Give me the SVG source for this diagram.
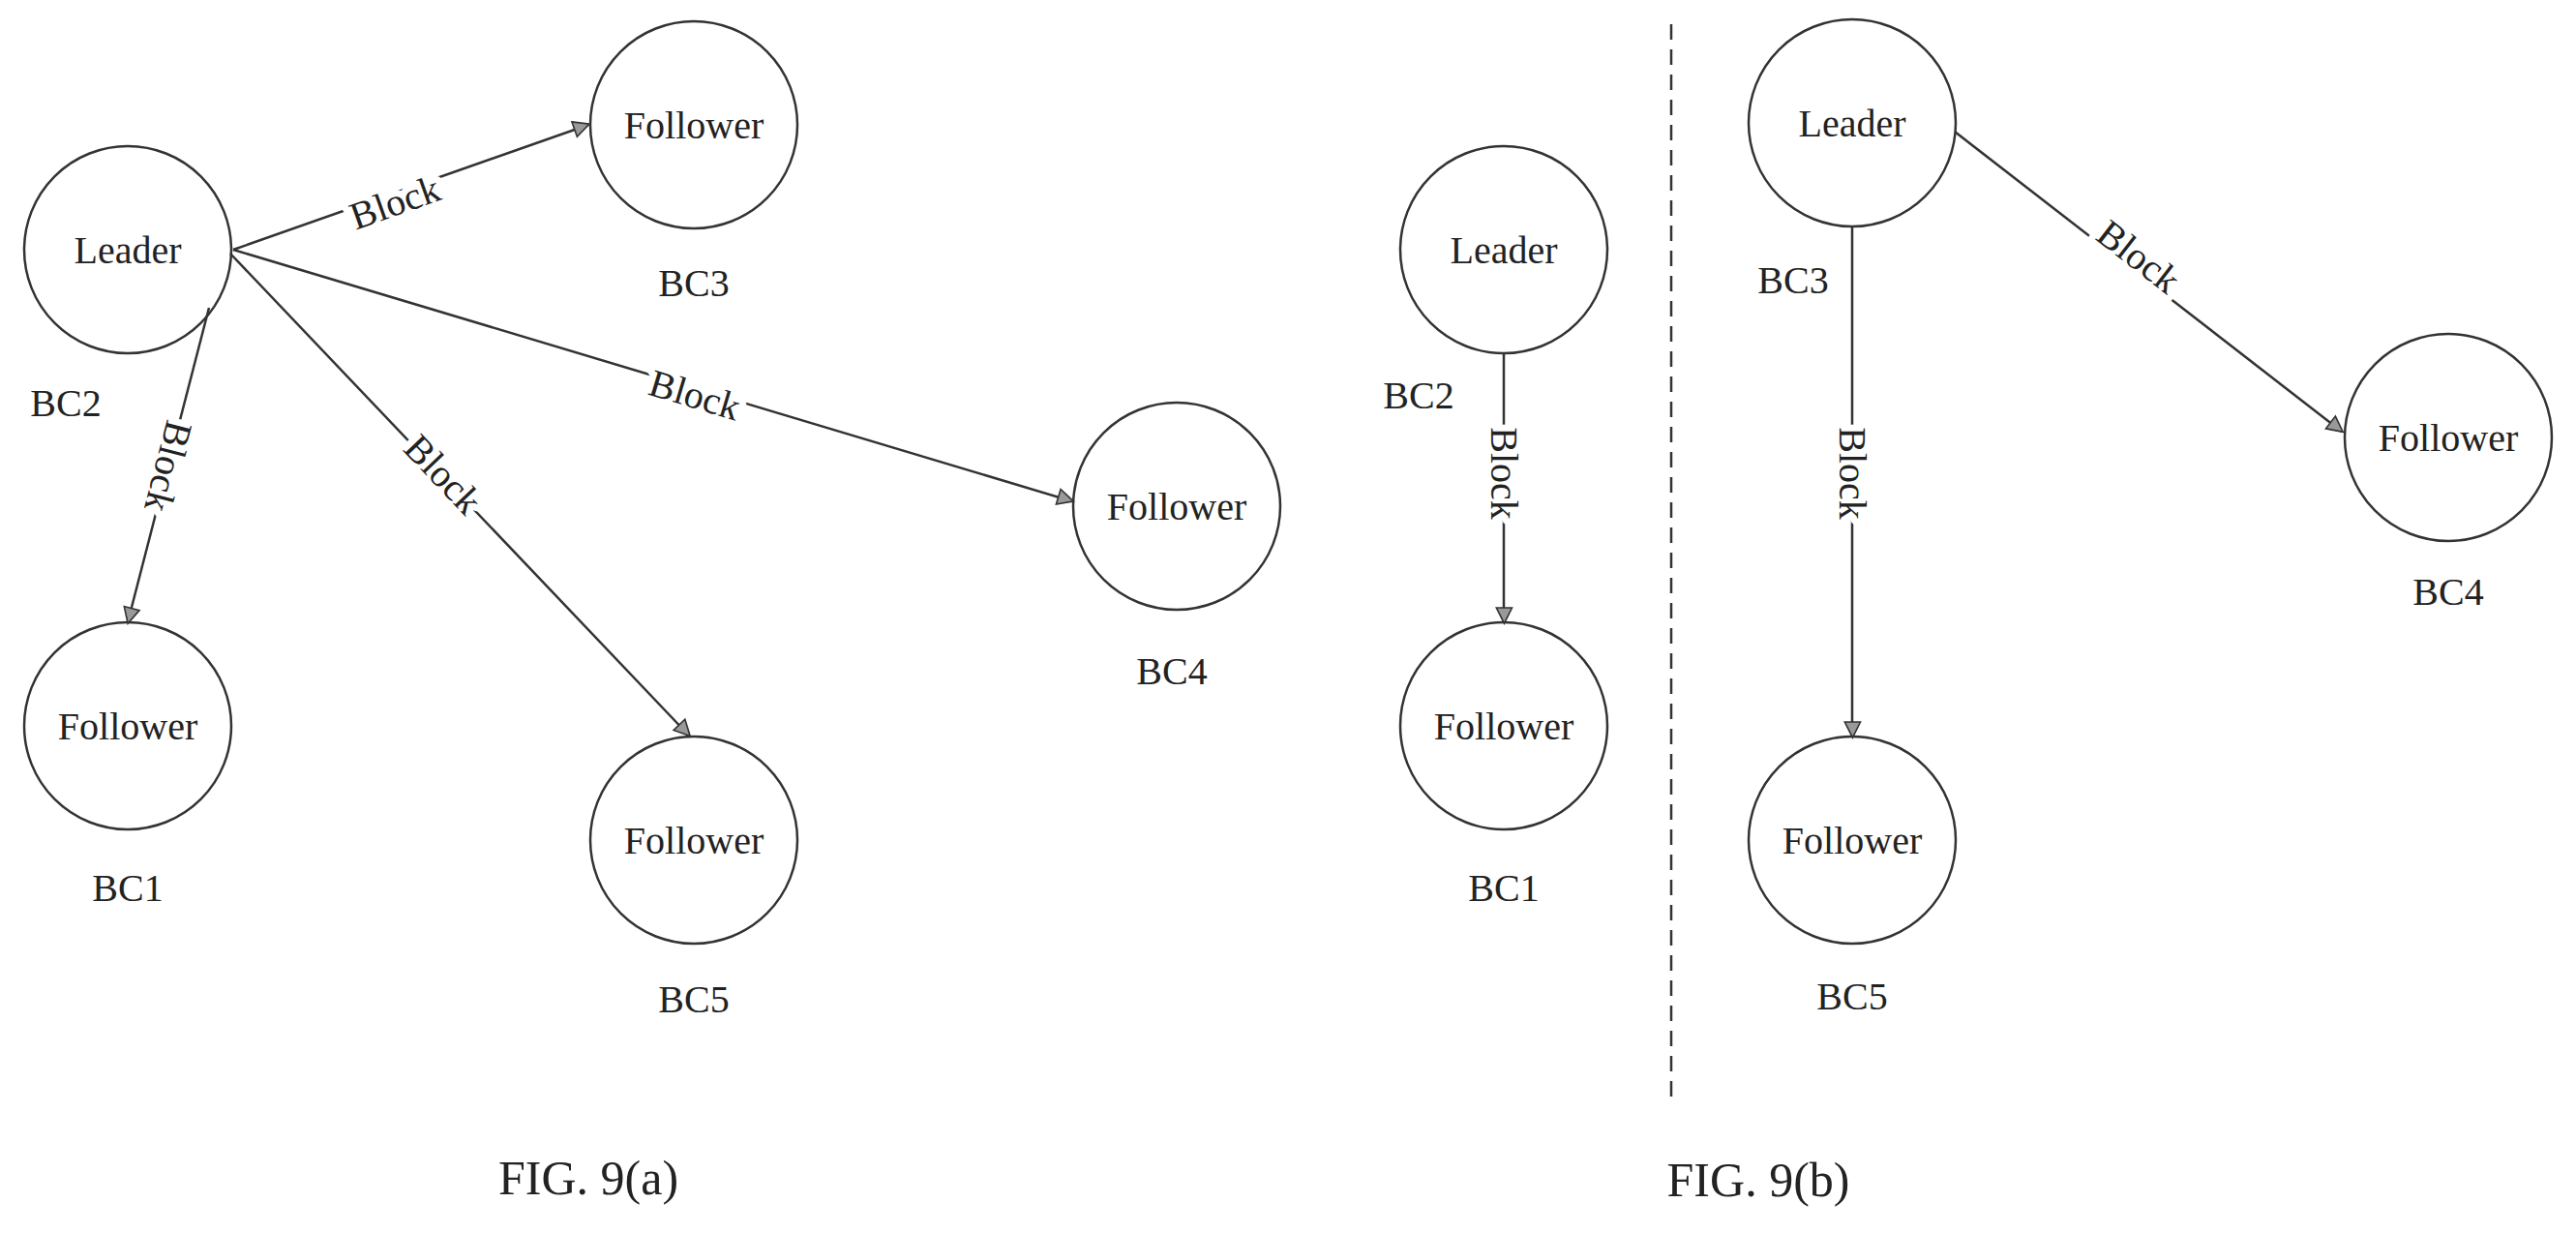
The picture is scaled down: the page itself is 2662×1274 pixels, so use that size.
<svg xmlns="http://www.w3.org/2000/svg" width="2662" height="1274" viewBox="0 0 2662 1274">
<style>
text{font-family:"Liberation Serif","Times New Roman",serif;fill:#222;text-anchor:middle;dominant-baseline:central}
.n{font-size:40px}
.l{font-size:40px}
.f{font-size:50px}
circle{fill:none;stroke:#333;stroke-width:2.5}
.e line{stroke:#333;stroke-width:2.5;marker-end:url(#a)}
.e text{font-size:40px;stroke:#fff;stroke-width:14px;paint-order:stroke;stroke-linejoin:round}
</style>
<defs>
<marker id="a" viewBox="0 0 12 12" refX="11" refY="6" markerWidth="9" markerHeight="9" markerUnits="userSpaceOnUse" orient="auto" overflow="visible">
<path d="M0,0 L12,6 L0,12 Z" transform="scale(1.8) translate(-5,-3)" fill="#999" stroke="#333" stroke-width="1.2"/>
</marker>
</defs>
<rect width="2662" height="1274" fill="#fff"/>
<g id="a-bc2"><circle cx="132" cy="258" r="107"/><text class="n" x="132" y="258">Leader</text><text class="l" x="68" y="416">BC2</text></g>
<g id="a-bc3"><circle cx="717" cy="129" r="107"/><text class="n" x="717" y="129">Follower</text><text class="l" x="717" y="292">BC3</text></g>
<g id="a-bc4"><circle cx="1216" cy="523" r="107"/><text class="n" x="1216" y="523">Follower</text><text class="l" x="1211" y="693">BC4</text></g>
<g id="a-bc1"><circle cx="132" cy="750" r="107"/><text class="n" x="132" y="750">Follower</text><text class="l" x="132" y="917">BC1</text></g>
<g id="a-bc5"><circle cx="717" cy="868" r="107"/><text class="n" x="717" y="868">Follower</text><text class="l" x="717" y="1032">BC5</text></g>
<g id="b-bc2"><circle cx="1554" cy="258" r="107"/><text class="n" x="1554" y="258">Leader</text><text class="l" x="1466" y="408">BC2</text></g>
<g id="b-bc1"><circle cx="1554" cy="750" r="107"/><text class="n" x="1554" y="750">Follower</text><text class="l" x="1554" y="917">BC1</text></g>
<g id="b-bc3"><circle cx="1914" cy="127" r="107"/><text class="n" x="1914" y="127">Leader</text><text class="l" x="1853" y="289">BC3</text></g>
<g id="b-bc5"><circle cx="1914" cy="868" r="107"/><text class="n" x="1914" y="868">Follower</text><text class="l" x="1914" y="1029">BC5</text></g>
<g id="b-bc4"><circle cx="2530" cy="452" r="107"/><text class="n" x="2530" y="452">Follower</text><text class="l" x="2530" y="611">BC4</text></g>
<g id="edges" class="e">
<line x1="241" y1="258" x2="608" y2="129"/>
<line x1="241" y1="258" x2="1108" y2="518"/>
<line x1="238" y1="262" x2="712" y2="760"/>
<line x1="216" y1="318" x2="132" y2="643"/>
<line x1="1554" y1="365" x2="1554" y2="643"/>
<line x1="1914" y1="234" x2="1914" y2="761"/>
<line x1="2020" y1="136" x2="2420" y2="446"/>
<text transform="translate(408,209) rotate(-19.5)">Block</text>
<text transform="translate(718,408) rotate(16.7)">Block</text>
<text transform="translate(458,490) rotate(46.5)">Block</text>
<text transform="translate(174,482) rotate(104.5)">Block</text>
<text transform="translate(1554,489) rotate(90)">Block</text>
<text transform="translate(1914,489) rotate(90)">Block</text>
<text transform="translate(2210,265) rotate(37.8)">Block</text>
</g>
<line x1="1727" y1="25" x2="1727" y2="1138" stroke="#333" stroke-width="2.5" stroke-dasharray="16,10"/>
<text class="f" x="608" y="1217">FIG. 9(a)</text>
<text class="f" x="1817" y="1219">FIG. 9(b)</text>
</svg>
